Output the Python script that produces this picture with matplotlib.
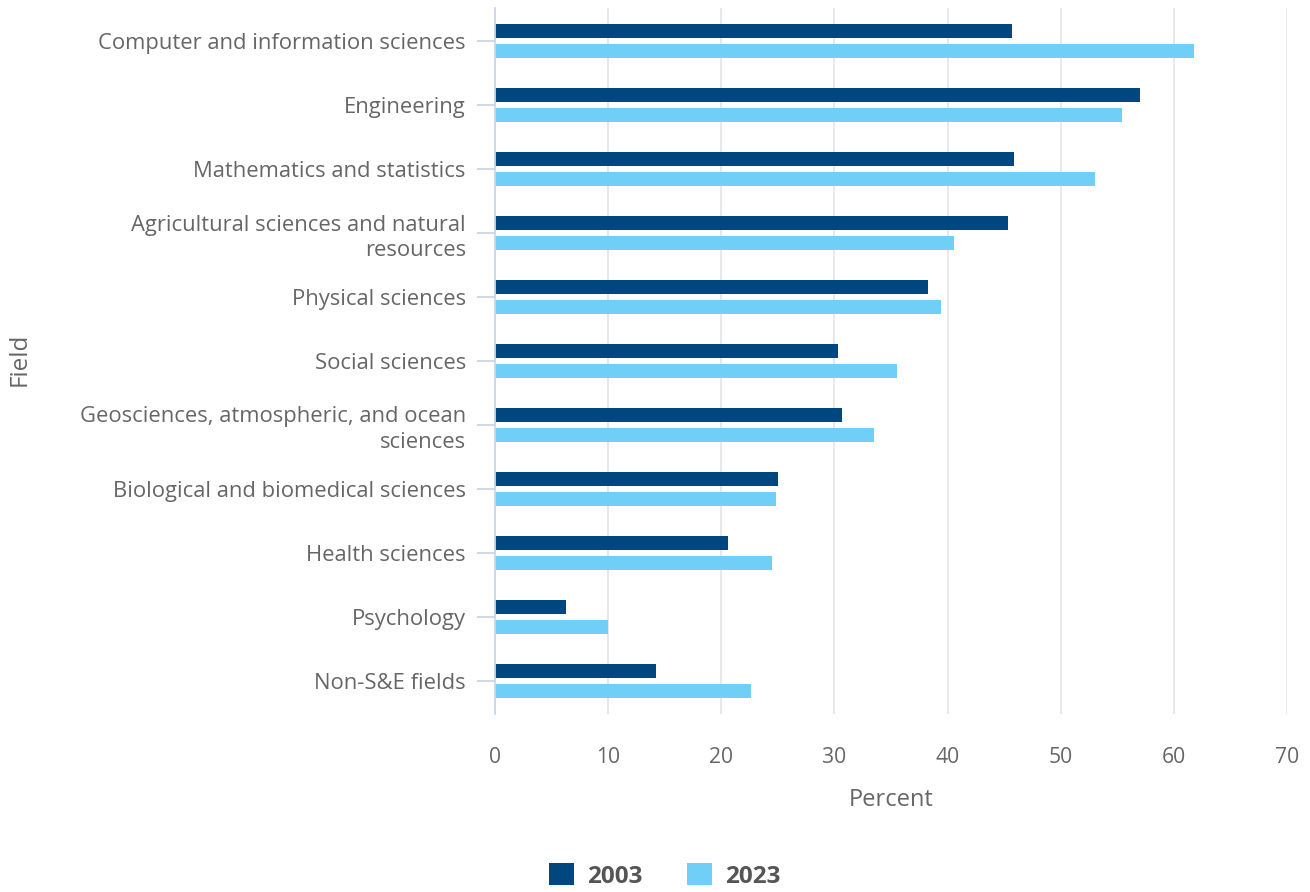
import matplotlib
matplotlib.use("Agg")
import matplotlib.pyplot as plt
import numpy as np

categories = [
    "Computer and information sciences",
    "Engineering",
    "Mathematics and statistics",
    "Agricultural sciences and natural\nresources",
    "Physical sciences",
    "Social sciences",
    "Geosciences, atmospheric, and ocean\nsciences",
    "Biological and biomedical sciences",
    "Health sciences",
    "Psychology",
    "Non-S&E fields",
]
values_2003 = [45.7, 57.0, 45.9, 45.3, 38.3, 30.3, 30.7, 25.0, 20.6, 6.3, 14.2]
values_2023 = [61.8, 55.4, 53.0, 40.6, 39.4, 35.5, 33.5, 24.8, 24.5, 10.0, 22.6]
series_names = ["2003", "2023"]
xticks = [0, 10, 20, 30, 40, 50, 60, 70]

plt.rcParams['font.family'] = ['Open Sans', 'DejaVu Sans']

fig = plt.figure(figsize=(13.1, 8.92), dpi=100)
ax = fig.add_axes([495/1310, 1-714/892, (1287-495)/1310, (714-8)/892])

y = np.arange(len(categories))
h = 0.22
off = 0.156
c1 = "#00477f"
c2 = "#6fcff6"
ax.barh(y - off, values_2003, height=h, color=c1, label=series_names[0], zorder=3)
ax.barh(y + off, values_2023, height=h, color=c2, label=series_names[1], zorder=3)

ax.set_xlim(0, 70)
ax.set_ylim(len(categories) - 0.484, -0.516)
ax.set_xticks(xticks)
ax.set_xticklabels([str(t) for t in xticks])
ax.set_yticks(y)
ax.set_yticklabels(categories, ha='right', multialignment='right', linespacing=1.3)

ax.grid(axis='x', color='#e6e6e6', linewidth=1.3, zorder=0)
for s in ['top', 'right', 'bottom']:
    ax.spines[s].set_visible(False)
ax.spines['left'].set_color('#ccd6eb')
ax.spines['left'].set_linewidth(1.3)
ax.spines['left'].set_zorder(4)

ax.tick_params(axis='y', length=13, width=1.3, color='#ccd6eb', pad=8,
               labelsize=15.8, labelcolor='#666666')
ax.tick_params(axis='x', length=0, pad=24, labelsize=15.2, labelcolor='#666666')

ax.set_xlabel("Percent", fontsize=17, color='#666666', labelpad=14)
fig.text(20/1310, 1-359/892, "Field", rotation=90, fontsize=17.5, color='#666666',
         ha='center', va='center')

leg = fig.legend(loc='center', bbox_to_anchor=(665/1310, 1-876/892), ncol=2,
                 frameon=False, handlelength=1.0, handleheight=1.0,
                 columnspacing=1.85, handletextpad=0.55,
                 prop={'size': 17.5, 'weight': 'bold'})
for t in leg.get_texts():
    t.set_color('#555555')

fig.savefig("out.png", dpi=100)
